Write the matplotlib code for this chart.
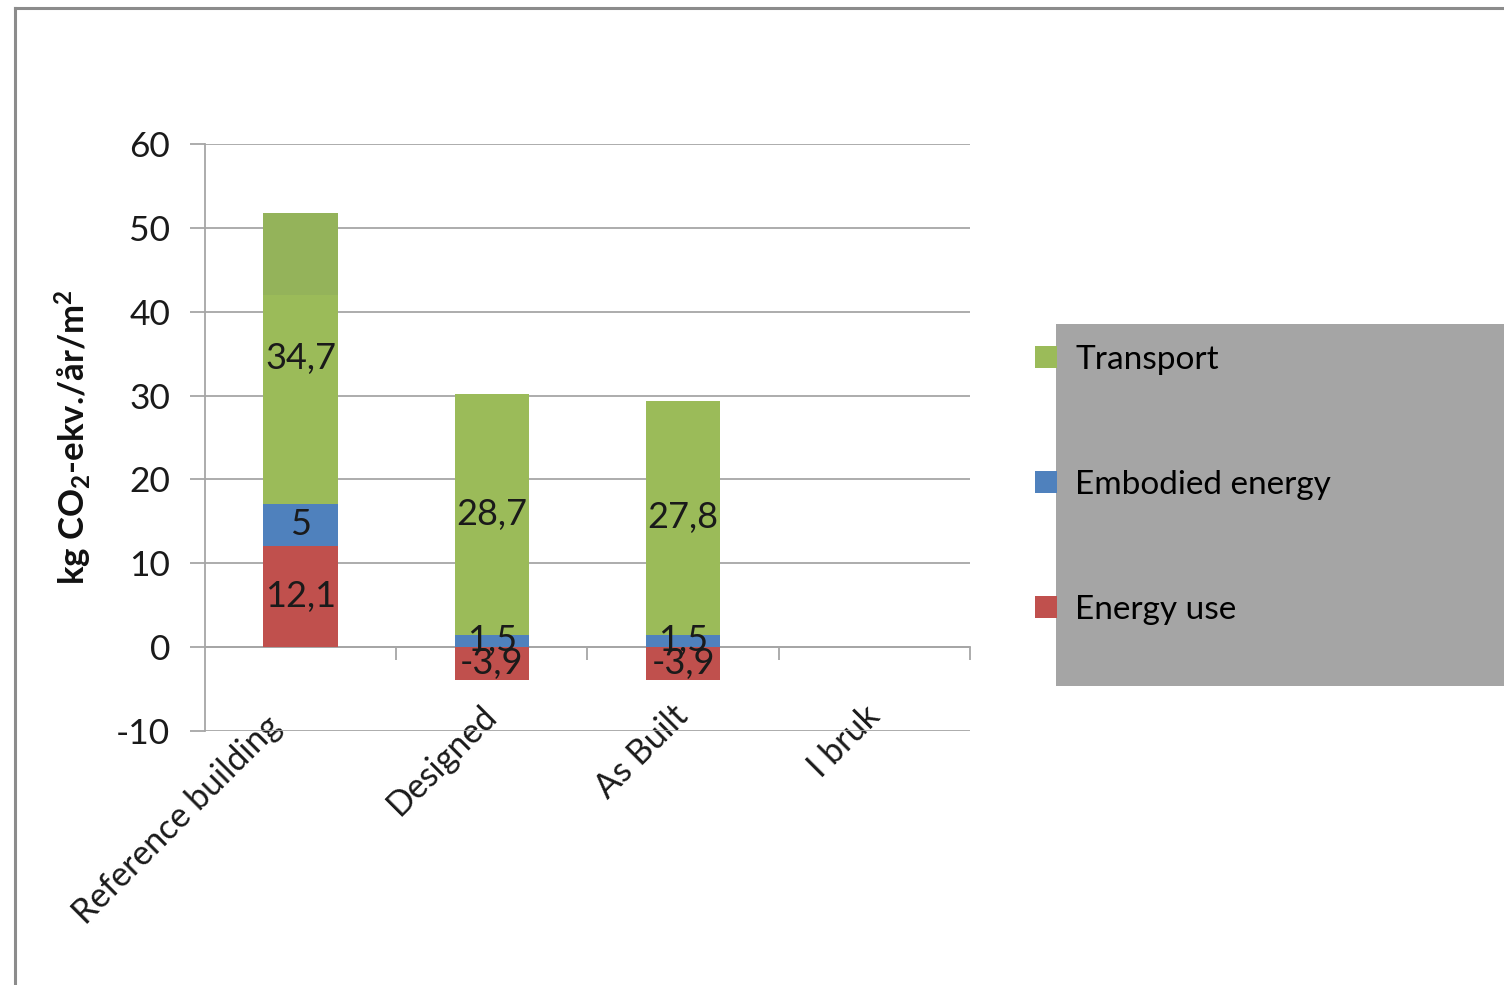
import matplotlib
matplotlib.use('Agg')
import matplotlib.pyplot as plt
from matplotlib.patches import Rectangle
from matplotlib.lines import Line2D
from matplotlib.transforms import ScaledTranslation
import numpy as np

# Data (kg CO2-ekv./år/m2)
categories = ['Reference building', 'Designed', 'As Built', 'I bruk']
energy_use = [12.1, -3.9, -3.9, 0]
embodied = [5, 1.5, 1.5, 0]
transport = [34.7, 28.7, 27.8, 0]
shade_from = 42.0  # darker band at top of the reference bar

plt.rcParams['font.family'] = ['Lato', 'DejaVu Sans']
plt.rcParams['mathtext.default'] = 'regular'
plt.rcParams['axes.unicode_minus'] = False

c_green = '#9BBB59'
c_blue = '#4F81BD'
c_red = '#C0504D'
c_grid = '#A6A6A6'

fig = plt.figure(figsize=(15.04, 9.85), dpi=100)
ax = fig.add_axes([0.1363, 0.2579, 0.5086, 0.5959])

x = np.arange(len(categories))
w = 0.39
eu = np.array(energy_use)
em = np.array(embodied)
tr = np.array(transport)
pos_base = np.where(eu > 0, eu, 0)

b_red = ax.bar(x, eu, w, color=c_red, label='Energy use', zorder=3)
b_blue = ax.bar(x, em, w, bottom=pos_base, color=c_blue, label='Embodied energy', zorder=3)
b_green = ax.bar(x, tr, w, bottom=pos_base + em, color=c_green, label='Transport', zorder=3)

# slightly darker band on top of the reference bar
top_ref = pos_base[0] + em[0] + tr[0]
ax.bar(x[0], top_ref - shade_from, w, bottom=shade_from, color='#94B35A', zorder=3.5)

def fmt(vals):
    return [f'{v:g}'.replace('.', ',') if v != 0 else '' for v in vals]

for bars, vals in [(b_red, eu), (b_blue, em), (b_green, tr)]:
    ax.bar_label(bars, labels=fmt(vals), label_type='center',
                 fontsize=26, color='#1a1a1a', zorder=5)
for t in ax.texts:
    t.set_zorder(5)

ax.set_ylim(-10, 60)
ax.set_xlim(-0.5, 3.5)
ax.set_yticks(np.arange(-10, 61, 10))
ax.yaxis.grid(True, color=c_grid, linewidth=1.3, zorder=0)
ax.set_axisbelow(True)

for s in ['top', 'right']:
    ax.spines[s].set_visible(False)
ax.spines['left'].set_color(c_grid)
ax.spines['left'].set_linewidth(1.3)
ax.spines['bottom'].set_position(('data', 0))
ax.spines['bottom'].set_color(c_grid)
ax.spines['bottom'].set_linewidth(1.3)

ax.tick_params(axis='y', length=11, width=1.3, color=c_grid, pad=14,
               labelsize=25.5, labelcolor='#1a1a1a')

# category boundaries as ticks, labels on minor ticks at bar centres
ax.set_xticks(np.arange(0.5, len(categories), 1.0))
ax.set_xticklabels([])
ax.tick_params(axis='x', which='major', length=9, width=1.3, color=c_grid)
ax.set_xticks(x, minor=True)
ax.set_xticklabels(categories, minor=True, rotation=45, ha='right',
                   va='center', rotation_mode='anchor')
ax.tick_params(axis='x', which='minor', length=0, pad=46,
               labelsize=24.5, labelcolor='#1a1a1a')
xlabels = ax.get_xticklabels(minor=True)
for lbl in xlabels:
    lbl.set_bbox(dict(facecolor='white', edgecolor='none', pad=6))
# the long first label sits a little lower-left in the original
xlabels[0].set_transform(xlabels[0].get_transform()
                         + ScaledTranslation(-25 / 100, -10 / 100, fig.dpi_scale_trans))

ax.set_ylabel(r'kg CO$_2$-ekv./år/m$^2$', fontsize=25, fontweight='bold',
              color='#111111')
ax.yaxis.set_label_coords(-0.145, 0.5)

# grey box behind the legend text
fig.patches.append(Rectangle((0.7021, 0.3036), 0.2979, 0.3675,
                             transform=fig.transFigure, facecolor='#A5A5A5',
                             edgecolor='none', zorder=0))

handles = [b_green, b_blue, b_red]
leg = fig.legend(handles, [h.get_label() for h in handles],
                 loc='center left', bbox_to_anchor=(0.6882, 0.5077),
                 frameon=False, fontsize=24, handlelength=0.65,
                 handleheight=0.65, handletextpad=0.55, labelspacing=2.85,
                 borderpad=0, borderaxespad=0)

# outer frame of the screenshot
fig.add_artist(Line2D([0.00997, 1], [0.9919, 0.9919], color='#8C8C8C',
                      linewidth=2.2, transform=fig.transFigure))
fig.add_artist(Line2D([0.00997, 0.00997], [0, 0.9919], color='#8C8C8C',
                      linewidth=2.2, transform=fig.transFigure))

fig.savefig('out.png', dpi=100)
